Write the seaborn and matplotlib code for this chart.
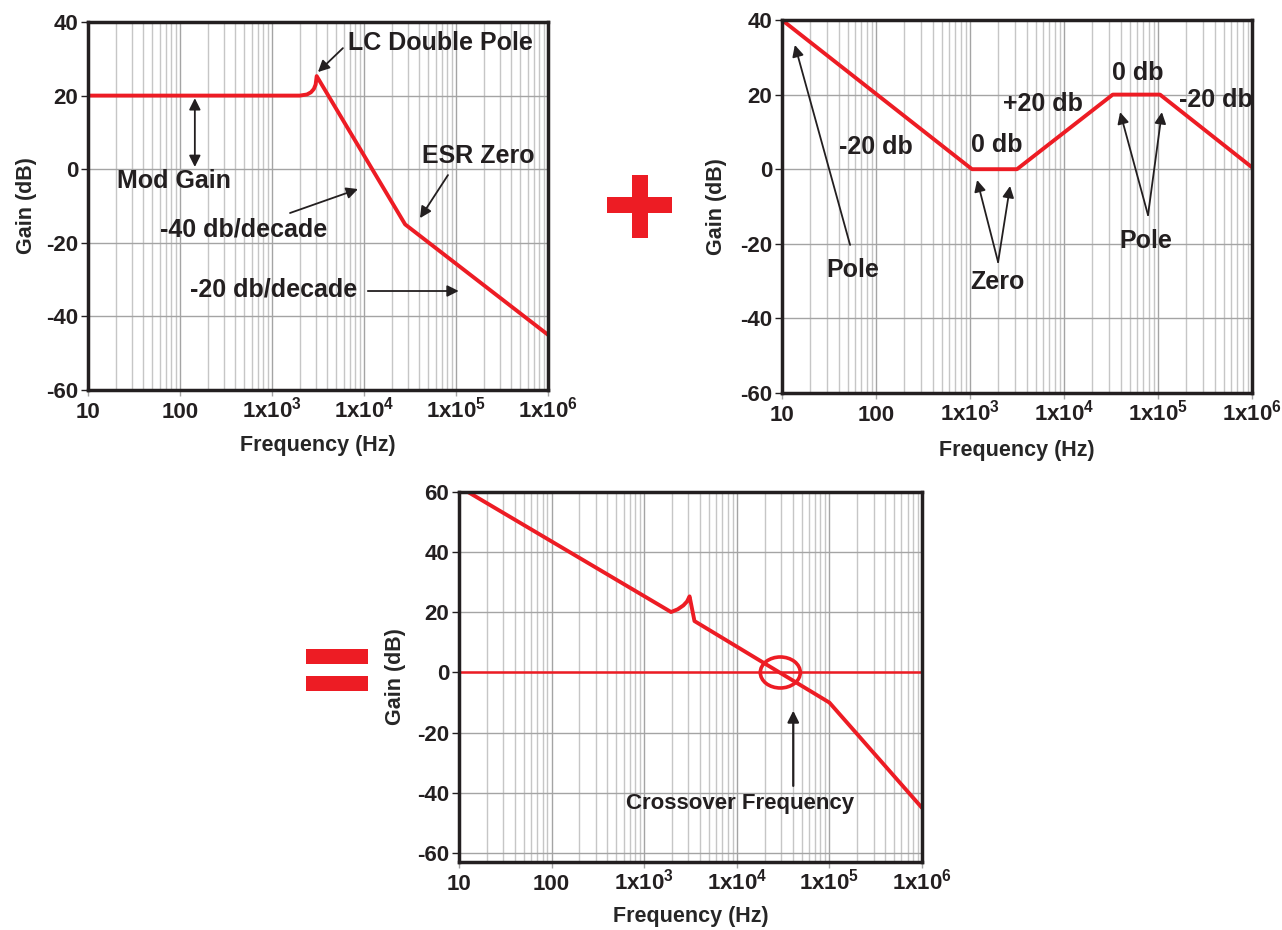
import math
import matplotlib
matplotlib.use("Agg")
import matplotlib.pyplot as plt
from matplotlib.patches import Ellipse, Rectangle
from matplotlib.ticker import LogLocator, FixedLocator, FixedFormatter, NullFormatter
import seaborn as sns

# ── data ────────────────────────────────────────────────────
# modulator + LC filter
mod_freq = [10, 2000, 2400, 2650, 2850, 2980, 3060, 28000, 1e6]
mod_gain = [20, 20, 20.3, 20.9, 21.8, 23.0, 25.3, -15, -45]

# compensator
comp_freq = [10, 1050, 3160, 33000, 105000, 1e6]
comp_gain = [40, 0, 0, 20, 20, 0.5]

# total loop gain
loop_freq = [12.5, 1950, 2300, 2650, 2900, 3090, 3490, 1e5, 1e6]
loop_gain = [60, 20.1, 21.0, 22.3, 23.6, 25.3, 17.1, -10, -45]

crossover_freq = 29500

x_ticks = [10, 100, 1e3, 1e4, 1e5, 1e6]
x_labels = ["10", "100", r"1x10$^{3}$", r"1x10$^{4}$", r"1x10$^{5}$", r"1x10$^{6}$"]

RED = "#ed1c24"
INK = "#231f20"
GRID = "#a4a4a4"
GRID_MINOR = "#c6c6c6"

# ── style ───────────────────────────────────────────────────
sns.set_style("white")
plt.rcParams["font.family"] = ["Liberation Sans", "DejaVu Sans"]
plt.rcParams["font.weight"] = "bold"
plt.rcParams["axes.unicode_minus"] = False
plt.rcParams["mathtext.fontset"] = "custom"
plt.rcParams["mathtext.rm"] = "Liberation Sans:bold"
plt.rcParams["mathtext.it"] = "Liberation Sans:bold"
plt.rcParams["mathtext.bf"] = "Liberation Sans:bold"
plt.rcParams["text.color"] = INK

W, H = 1282, 930
fig = plt.figure(figsize=(W / 100, H / 100), dpi=100)


def box(l, t, r, b):
    return [l / W, 1 - b / H, (r - l) / W, (b - t) / H]


def setup(ax, ylim, yticks, xlab_y, ylab_x):
    ax.set_xscale("log")
    ax.set_xlim(10, 1e6)
    ax.set_ylim(*ylim)
    ax.xaxis.set_major_locator(FixedLocator(x_ticks))
    ax.xaxis.set_major_formatter(FixedFormatter(x_labels))
    ax.xaxis.set_minor_locator(LogLocator(base=10, subs=range(2, 10), numticks=20))
    ax.xaxis.set_minor_formatter(NullFormatter())
    ax.set_yticks(yticks)
    ax.grid(True, which="major", axis="x", color=GRID, lw=1.0)
    ax.grid(True, which="minor", axis="x", color=GRID_MINOR, lw=1.0)
    ax.grid(True, which="major", axis="y", color=GRID, lw=1.0)
    ax.set_axisbelow(True)
    for s in ax.spines.values():
        s.set_color(INK)
        s.set_linewidth(2.5)
    ax.tick_params(axis="x", which="minor", length=0)
    ax.tick_params(axis="x", which="major", length=4, width=1, color=GRID,
                   bottom=True, pad=16, labelsize=16, labelcolor=INK)
    ax.tick_params(axis="y", which="major", length=5, width=1, color=INK, pad=2,
                   left=True, labelsize=16, labelcolor=INK)
    for lab in ax.get_xticklabels():
        lab.set_va("baseline")
    ax.set_xlabel("Frequency (Hz)", fontsize=15.5, fontweight="bold")
    ax.set_ylabel("Gain (dB)", fontsize=15.5, fontweight="bold")
    ax.xaxis.set_label_coords(0.5, xlab_y)
    ax.xaxis.label.set_va("center")
    ax.yaxis.set_label_coords(ylab_x, 0.5)
    ax.yaxis.label.set_va("center")


def arrow(ax, tail, head, style="-|>", lw=1.3, ms=17):
    ax.annotate("", xy=head, xytext=tail,
                arrowprops=dict(arrowstyle=style, color=INK, lw=lw,
                                mutation_scale=ms, shrinkA=0, shrinkB=0))


txt = dict(fontsize=18, fontweight="bold", color=INK)

# ── top-left: modulator gain ────────────────────────────────
ax1 = fig.add_axes(box(88, 22, 548, 390))
setup(ax1, (-60, 40), [-60, -40, -20, 0, 20, 40], -0.151, -0.133)
sns.lineplot(x=mod_freq, y=mod_gain, ax=ax1, color=RED, linewidth=2.8,
             sort=False, estimator=None)
ax1.text(6700, 34.3, "LC Double Pole", ha="left", va="center", **txt)
arrow(ax1, (5900, 32.9), (3160, 26.4))
arrow(ax1, (145, 19.3), (145, 0.6), style="<|-|>")
ax1.text(20.7, -3.2, "Mod Gain", ha="left", va="center", **txt)
ax1.text(61, -16.3, "-40 db/decade", ha="left", va="center", **txt)
arrow(ax1, (1570, -11.9), (8600, -5.4))
ax1.text(42800, 3.6, "ESR Zero", ha="left", va="center", **txt)
arrow(ax1, (81800, -1.6), (40600, -13.3))
ax1.text(128, -32.8, "-20 db/decade", ha="left", va="center", **txt)
arrow(ax1, (11000, -33.1), (107000, -33.1))

# ── top-right: compensator gain ─────────────────────────────
ax2 = fig.add_axes(box(782, 20, 1252, 393))
setup(ax2, (-60, 40), [-60, -40, -20, 0, 20, 40], -0.153, -0.140)
sns.lineplot(x=comp_freq, y=comp_gain, ax=ax2, color=RED, linewidth=2.8,
             sort=False, estimator=None)
ax2.text(57, -27, "Pole", ha="center", va="center", **txt)
arrow(ax2, (53, -20.3), (13.7, 33.3))
ax2.text(100, 6, "-20 db", ha="center", va="center", **txt)
ax2.text(1940, 6.5, "0 db", ha="center", va="center", **txt)
ax2.text(1940, -30.2, "Zero", ha="center", va="center", **txt)
arrow(ax2, (1990, -24.9), (1190, -2.9))
arrow(ax2, (1990, -24.9), (2670, -4.5))
ax2.text(5980, 17.5, "+20 db", ha="center", va="center", **txt)
ax2.text(61200, 25.8, "0 db", ha="center", va="center", **txt)
ax2.text(414000, 18.6, "-20 db", ha="center", va="center", **txt)
ax2.text(74500, -19.2, "Pole", ha="center", va="center", **txt)
arrow(ax2, (78300, -12.3), (39500, 15.3))
arrow(ax2, (78300, -12.3), (110000, 15.3))

# ── bottom: total loop gain ─────────────────────────────────
ax3 = fig.add_axes(box(459, 492, 922, 862))
setup(ax3, (-63, 60), [-60, -40, -20, 0, 20, 40, 60], -0.146, -0.138)
ax3.axhline(0, color=RED, lw=1.8)
sns.lineplot(x=loop_freq, y=loop_gain, ax=ax3, color=RED, linewidth=2.8,
             sort=False, estimator=None)
cx = (math.log10(crossover_freq) - 1) / 5
cy = (0 - (-63)) / 123
ax3.add_patch(Ellipse((cx, cy), 40 / 463, 31 / 370, transform=ax3.transAxes,
                      fill=False, edgecolor=RED, lw=2.6, clip_on=False))
arrow(ax3, (40700, -37.7), (40700, -12.7), lw=1.6)
ax3.text(10900, -43.7, "Crossover Frequency", ha="center", va="center",
         fontsize=16, fontweight="bold", color=INK)

# ── big "+" and "=" signs ───────────────────────────────────
def bar(l, t, r, b):
    fig.add_artist(Rectangle((l / W, 1 - b / H), (r - l) / W, (b - t) / H,
                             transform=fig.transFigure, color=RED, lw=0))


bar(607, 197, 672, 213)
bar(632, 175, 648, 238)
bar(306, 649, 368, 664)
bar(306, 676, 368, 691)

fig.savefig("out.png", dpi=100)
